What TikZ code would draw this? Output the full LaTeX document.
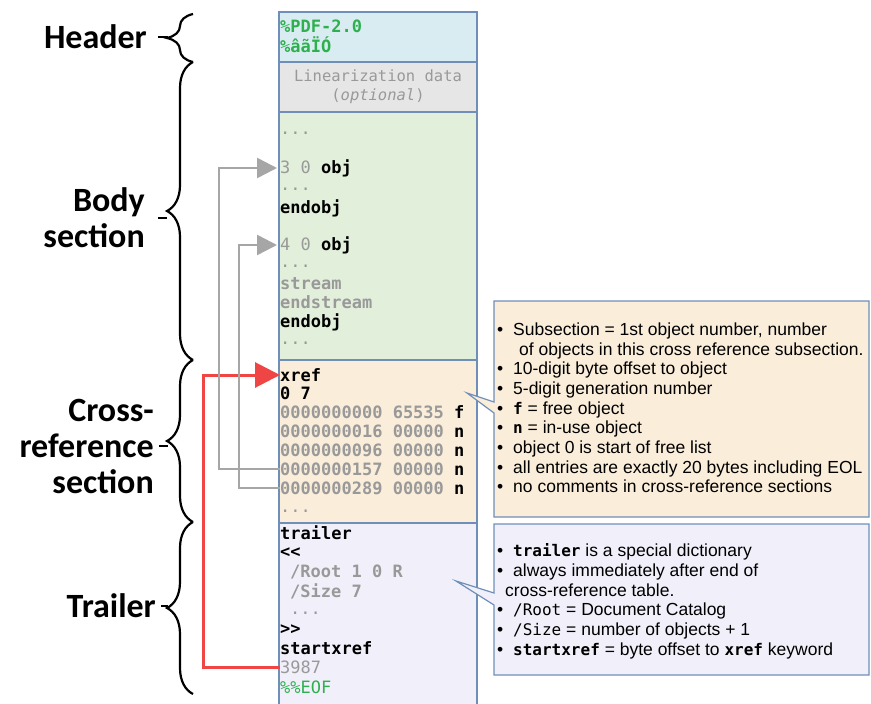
\documentclass[tikz,border=0pt]{standalone}
\usepackage{fontspec}
\setmainfont{Liberation Sans}
\setmonofont{DejaVu Sans Mono}
\newfontfamily\labelfont{Carlito}
\usetikzlibrary{arrows.meta,decorations.pathreplacing}
\definecolor{hdrblue}{HTML}{D9ECF2}
\definecolor{linegray}{HTML}{E6E6E6}
\definecolor{bodygreen}{HTML}{E2EFDA}
\definecolor{xrefbeige}{HTML}{FAEDDA}
\definecolor{trlviolet}{HTML}{F1F0FA}
\definecolor{boxblue}{HTML}{6F8FB8}
\definecolor{codegray}{HTML}{999999}
\definecolor{codegreen}{HTML}{2EB04F}
\definecolor{refgray}{HTML}{A6A6A6}
\definecolor{refred}{HTML}{F04545}
\newcommand\kw[1]{{\ttfamily\bfseries\fontsize{16}{19.7}\selectfont #1}}
\newcommand\kwr[1]{{\ttfamily\fontsize{16}{19.7}\selectfont #1}}
\newcommand\itm{\makebox[16pt][l]{\textbullet}}
\tikzset{
  partbox/.style={draw=boxblue, line width=1.2pt},
  codeline/.style={anchor=west, inner sep=0pt, font=\ttfamily\fontsize{17}{19}\selectfont},
  boldcode/.style={codeline, font=\ttfamily\bfseries\fontsize{17}{19}\selectfont},
  seclabel/.style={anchor=east, inner sep=0pt, align=right, font=\labelfont\bfseries\fontsize{34}{36}\selectfont},
  secbrace/.style={decorate, decoration={brace, amplitude=26pt}, line width=2.2pt},
  sectick/.style={line width=2pt},
  notebox/.style={draw=boxblue, line width=1.2pt},
  notetext/.style={anchor=north west, inner sep=0pt, align=left, font=\fontsize{17.5}{19.7}\selectfont},
  refarrow/.style={draw=refgray, line width=2.5pt, -{Triangle[length=20pt,width=20pt]}},
  startarrow/.style={draw=refred, line width=3pt, -{Triangle[length=25pt,width=25pt]}}
}
\begin{document}
\begin{tikzpicture}[x=1pt,y=-1pt]
  \useasboundingbox (0,0) rectangle (871,704);
  % file parts
  \fill[hdrblue] (279,12) rectangle (477,62);
  \fill[linegray] (279,62) rectangle (477,112);
  \fill[bodygreen] (279,112) rectangle (477,360);
  \fill[xrefbeige] (279,360) rectangle (477,523);
  \fill[trlviolet] (279,523) rectangle (477,710);
  \draw[partbox] (279,12) rectangle (477,62);
  \draw[partbox] (279,62) rectangle (477,112);
  \draw[partbox] (279,112) rectangle (477,360);
  \draw[partbox] (279,360) rectangle (477,523);
  \draw[partbox] (279,523) rectangle (477,710);

  % header
  \node[boldcode, text=codegreen] (pdfver) at (280,26) {\%PDF-2.0};
  \node[boldcode, text=codegreen] (binmark) at (280,45) {\%âãÏÓ};
  \node[inner sep=0pt, align=center, text=codegray, font=\ttfamily\fontsize{15.5}{19}\selectfont] (lindata) at (378,87) {Linearization data\\(\textit{optional})};

  % body
  \node[codeline, text=codegray] (bd1) at (280,133) {...};
  \node[codeline] (obj3) at (280,168) {\textcolor{codegray}{3 0} \textbf{obj}};
  \node[codeline, text=codegray] (bd2) at (280,189) {...};
  \node[boldcode] (end3) at (280,208) {endobj};
  \node[codeline] (obj4) at (280,245) {\textcolor{codegray}{4 0} \textbf{obj}};
  \node[codeline, text=codegray] (bd3) at (280,266) {...};
  \node[boldcode, text=codegray] (strm) at (280,284) {stream};
  \node[boldcode, text=codegray] (estrm) at (280,302) {endstream};
  \node[boldcode] (end4) at (280,322) {endobj};
  \node[codeline, text=codegray] (bd4) at (280,343) {...};

  % cross-reference table
  \node[boldcode] (xref) at (280,375) {xref};
  \node[boldcode] (subsec) at (280,393) {0 7};
  \foreach \off/\gen/\t [count=\i] in {0000000000/65535/f, 0000000016/00000/n, 0000000096/00000/n, 0000000157/00000/n, 0000000289/00000/n} {
    \node[codeline] (e\i) at (280,393+19*\i) {\textcolor{codegray}{\textbf{\off\ \gen}} \textbf{\t}};
  }
  \node[codeline, text=codegray] (xr1) at (280,511) {...};

  % trailer
  \node[boldcode] (trl) at (280,533) {trailer};
  \node[boldcode] (dopen) at (280,553) {<<};
  \node[boldcode, text=codegray] (root) at (290,572) {/Root 1 0 R};
  \node[boldcode, text=codegray] (size) at (290,591) {/Size 7};
  \node[codeline, text=codegray] (tr1) at (290,613) {...};
  \node[boldcode] (dclose) at (280,630) {>>};
  \node[boldcode] (sxref) at (280,648) {startxref};
  \node[codeline, text=codegray] (sxoff) at (280,667) {3987};
  \node[codeline, text=codegreen] (eof) at (280,687) {\%\%EOF};

  % section labels and braces
  \node[seclabel] (lhdr) at (147,37) {Header};
  \node[seclabel] (lbody) at (145,218) {Body\\section};
  \node[seclabel] (lxref) at (154,446) {Cross-\\reference\\section};
  \node[seclabel] (ltrl) at (156,606) {Trailer};
  \draw[secbrace] (193,62) -- (193,14);
  \draw[secbrace] (193,360) -- (193,62);
  \draw[secbrace] (193,522) -- (193,360);
  \draw[secbrace] (193,694) -- (193,522);
  \draw[sectick] ([xshift=11pt]lhdr.east) -- ++(10,0);
  \draw[sectick] ([xshift=13pt]lbody.east) -- ++(9,0);
  \draw[sectick] ([xshift=5pt]lxref.east) -- ++(9,0);
  \draw[sectick] ([xshift=5pt]ltrl.east) -- ++(7,0);

  % offsets pointing back into the file
  \draw[startarrow] (sxoff.west) -- ++(-77,0) |- (xref.west);
  \draw[refarrow] (e4.west) -- ++(-61,0) |- ([xshift=-3pt]obj3.west);
  \draw[refarrow] (e5.west) -- ++(-41,0) |- ([xshift=-3pt]obj4.west);

  % notes
  \filldraw[notebox, fill=xrefbeige] (494,301) -- (869,301) -- (869,517) -- (494,517) -- (494,413) -- (467,393) -- (494,402) -- cycle;
  \node[notetext] (xrefnote) at (497,322.5) {\itm Subsection = 1st object number, number\\
    \hspace*{22pt}of objects in this cross reference subsection.\\
    \itm 10-digit byte offset to object\\
    \itm 5-digit generation number\\
    \itm \kw{f} = free object\\
    \itm \kw{n} = in-use object\\
    \itm object 0 is start of free list\\
    \itm all entries are exactly 20 bytes including EOL\\
    \itm no comments in cross-reference sections};
  \filldraw[notebox, fill=trlviolet] (494,524) -- (869,524) -- (869,675) -- (494,675) -- (494,605) -- (456,581) -- (494,593) -- cycle;
  \node[notetext] (trlnote) at (497,543.5) {\itm \kw{trailer} is a special dictionary\\
    \itm always immediately after end of\\
    \hspace*{8pt}cross-reference table.\\
    \itm \kwr{/Root} = Document Catalog\\
    \itm \kwr{/Size} = number of objects + 1\\
    \itm \kw{startxref} = byte offset to \kw{xref} keyword};
\end{tikzpicture}
\end{document}
